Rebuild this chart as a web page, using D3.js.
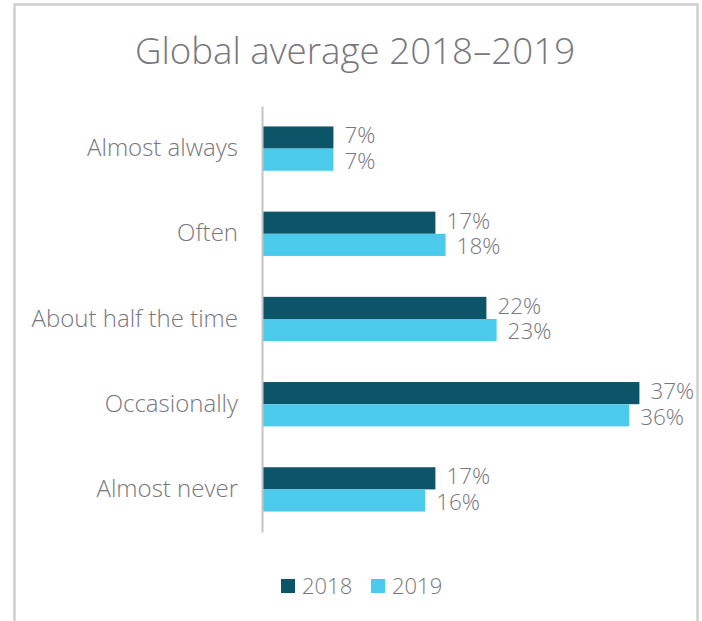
<!DOCTYPE html>
<html>
<head>
<meta charset="utf-8">
<script src="https://cdn.jsdelivr.net/npm/d3@7"></script>
<style>
  html, body { margin: 0; padding: 0; background: #fff; }
  svg { display: block; }
</style>
</head>
<body>
<svg id="chart" width="702" height="621"></svg>
<script>
const categories = ["Almost always", "Often", "About half the time", "Occasionally", "Almost never"];
const seriesNames = ["2018", "2019"];
const values2018 = [7, 17, 22, 37, 17];
const values2019 = [7, 18, 23, 36, 16];
const colors = ["#0c5468", "#4bcaeb"];
const titleText = "Global average 2018\u20132019";

const font = "'Open Sans', 'Noto Sans', sans-serif";
const textColor = "#77777d";
const weight = 300;

const svg = d3.select("#chart");

// outer frame
svg.append("path")
  .attr("d", "M14.5,621 L14.5,4.5 L697.5,4.5 L697.5,621")
  .attr("fill", "none")
  .attr("stroke", "#cfcfcf")
  .attr("stroke-width", 2.5);

// title
svg.append("text")
  .attr("x", 355)
  .attr("y", 64)
  .attr("text-anchor", "middle")
  .attr("font-family", font)
  .attr("font-weight", weight)
  .attr("font-size", 36.7)
  .attr("fill", textColor)
  .text(titleText);

const y = d3.scaleBand().domain(categories).range([106, 532]).paddingInner(0.48).paddingOuter(0.24);
const ySub = d3.scaleBand().domain(seriesNames).range([0, y.bandwidth()]);
const x = d3.scaleLinear().domain([0, 40]).range([262, 670]);

const data = categories.map((c, i) => ({
  cat: c,
  vals: [
    { s: seriesNames[0], v: values2018[i], color: colors[0], shift: -2 },
    { s: seriesNames[1], v: values2019[i], color: colors[1], shift: 1.5 }
  ]
}));

const groups = svg.selectAll("g.grp").data(data).join("g")
  .attr("class", "grp")
  .attr("transform", d => `translate(0,${y(d.cat)})`);

groups.selectAll("rect").data(d => d.vals).join("rect")
  .attr("x", x(0))
  .attr("y", d => ySub(d.s))
  .attr("width", d => x(d.v) - x(0))
  .attr("height", ySub.bandwidth())
  .attr("fill", d => d.color);

groups.selectAll("text.val").data(d => d.vals).join("text")
  .attr("class", "val")
  .attr("x", d => x(d.v) + 11)
  .attr("y", d => ySub(d.s) + ySub.bandwidth() / 2 + d.shift)
  .attr("dy", "0.35em")
  .attr("font-family", font)
  .attr("font-weight", weight)
  .attr("font-size", 22.5)
  .attr("fill", textColor)
  .text(d => d.v + "%");

// category axis
const yAxis = d3.axisLeft(y).tickSize(0).tickPadding(24);
const ag = svg.append("g").attr("transform", `translate(${x(0)},0)`).call(yAxis);
ag.select(".domain").attr("stroke", "#c4c4c4").attr("stroke-width", 2);
ag.selectAll(".tick text")
  .attr("font-family", font)
  .attr("font-weight", weight)
  .attr("font-size", 24)
  .attr("fill", textColor);

// legend
const legend = svg.append("g").attr("transform", "translate(0,586)");
const legendX = [281, 371];
seriesNames.forEach((s, i) => {
  legend.append("rect")
    .attr("x", legendX[i])
    .attr("y", -7)
    .attr("width", 14)
    .attr("height", 14)
    .attr("fill", colors[i]);
  legend.append("text")
    .attr("x", legendX[i] + 21)
    .attr("y", 0)
    .attr("dy", "0.35em")
    .attr("font-family", font)
    .attr("font-weight", weight)
    .attr("font-size", 22)
    .attr("fill", textColor)
    .text(s);
});
</script>
</body>
</html>
